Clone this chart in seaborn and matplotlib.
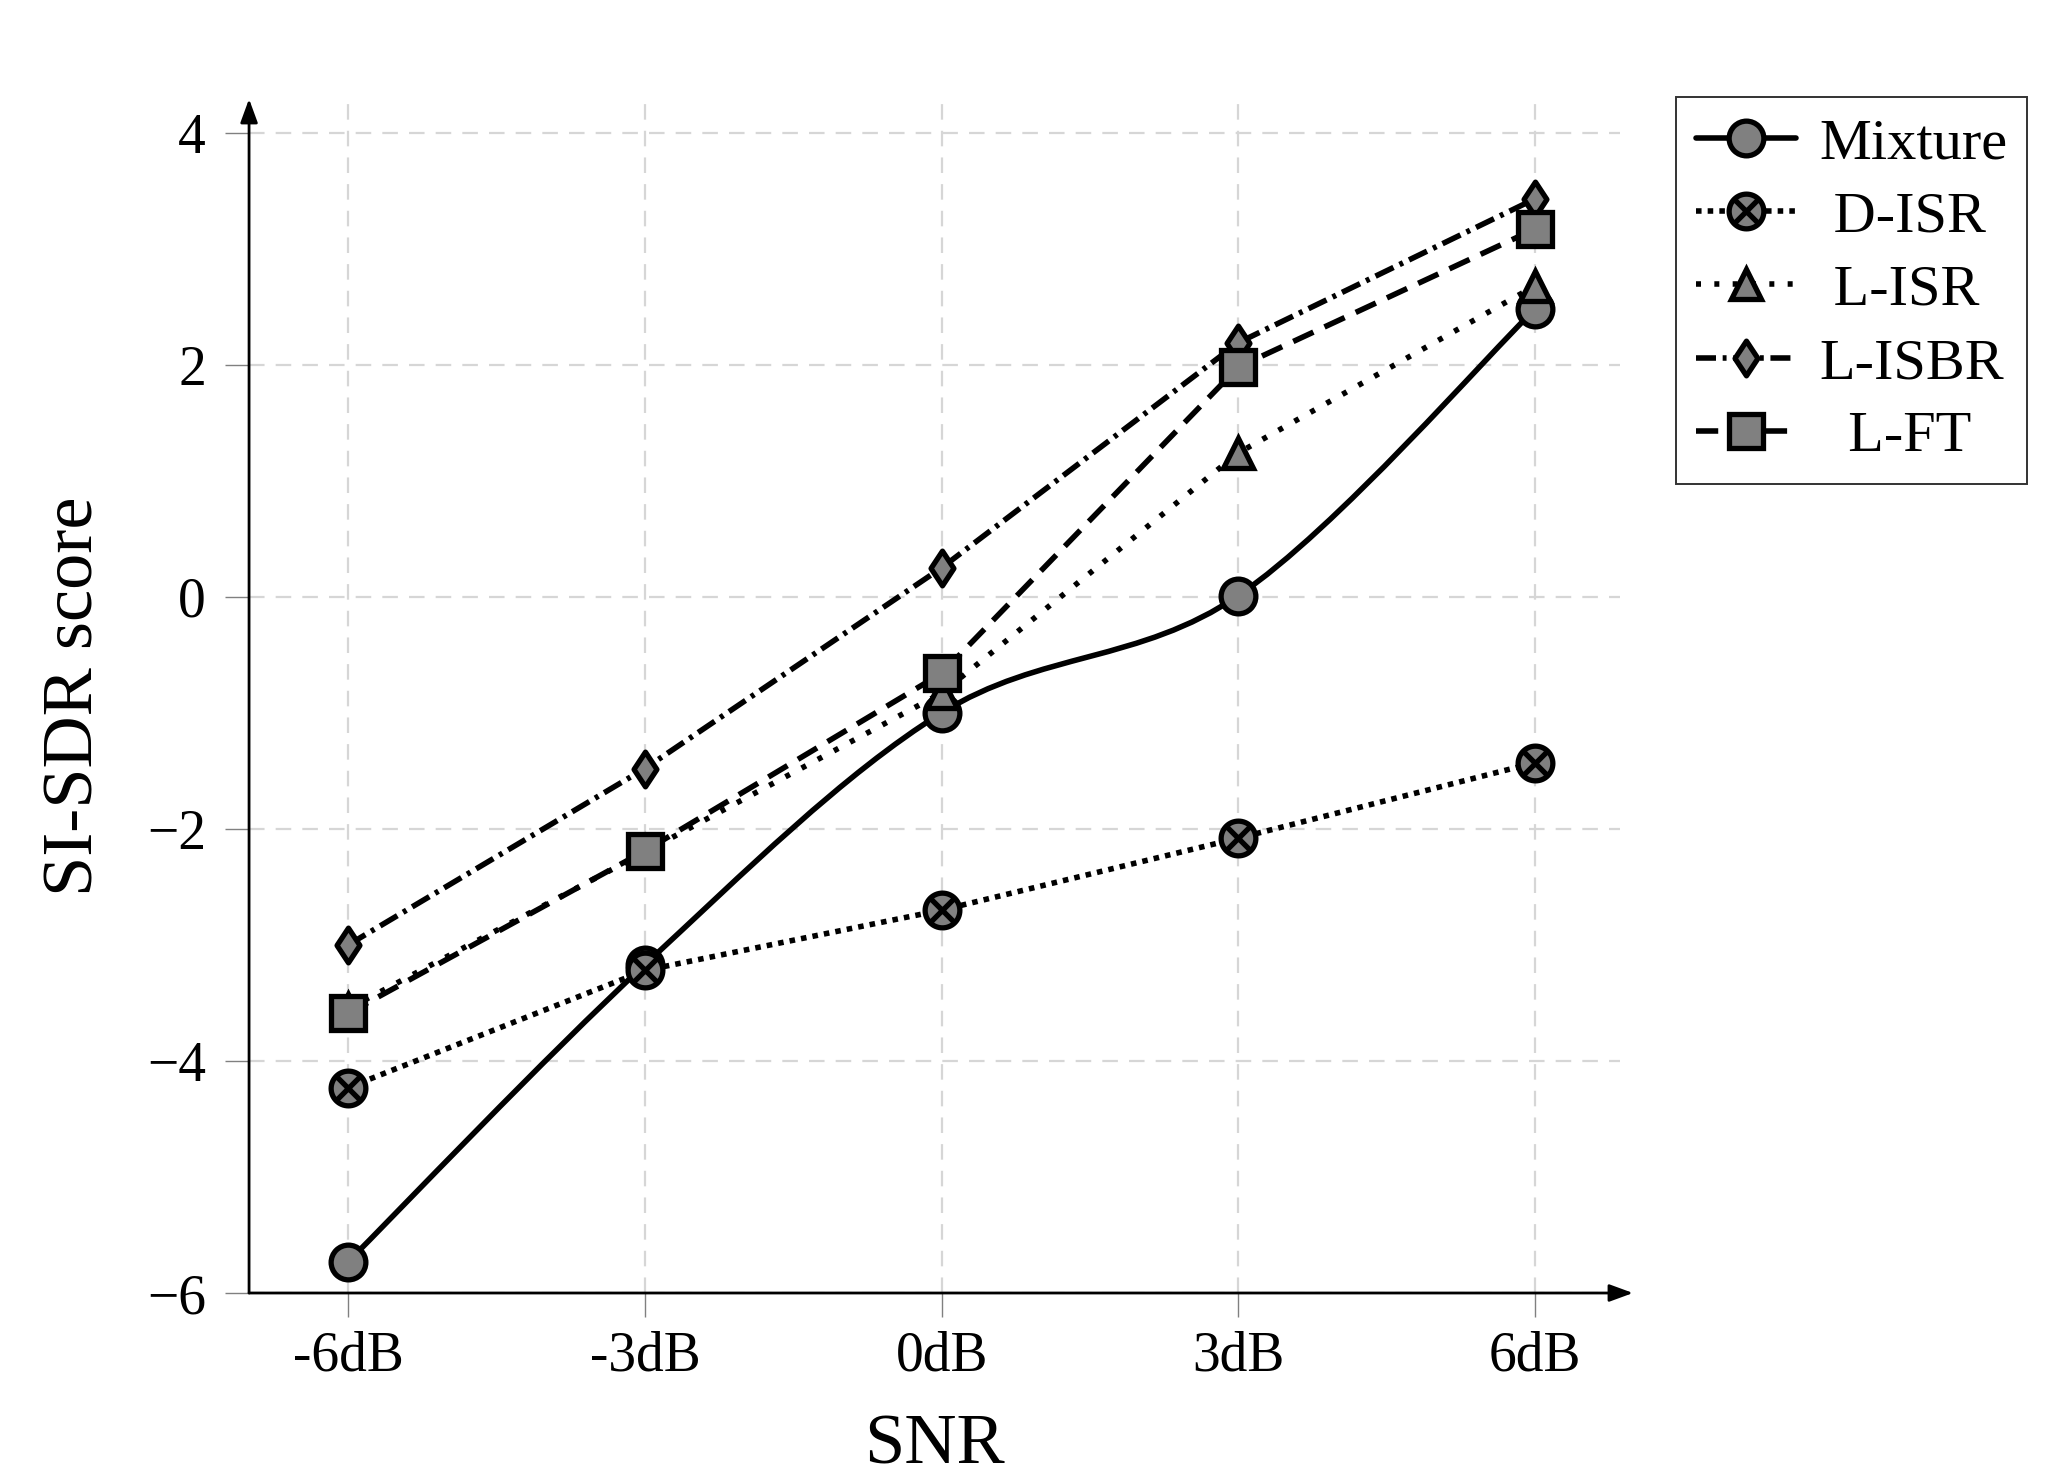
import numpy as np
import pandas as pd
import seaborn as sns
import matplotlib.pyplot as plt
from matplotlib.path import Path
from matplotlib.patches import PathPatch
from matplotlib.lines import Line2D

# ----- Data -----
snr_labels = ['-6dB', '-3dB', '0dB', '3dB', '6dB']
mixture = [-5.73, -3.17, -1.00, 0.01, 2.48]
d_isr = [-4.23, -3.22, -2.70, -2.08, -1.43]
l_isr = [-3.55, -2.20, -0.83, 1.24, 2.68]
l_isbr = [-3.00, -1.48, 0.25, 2.19, 3.43]
l_ft = [-3.59, -2.19, -0.66, 1.98, 3.17]

series_names = ['Mixture', 'D-ISR', 'L-ISR', 'L-ISBR', 'L-FT']
series_values = [mixture, d_isr, l_isr, l_isbr, l_ft]
y_ticks = [-6, -4, -2, 0, 2, 4]

# ----- Styling -----
sns.set_theme(style='white', rc={'text.color': 'black', 'axes.labelcolor': 'black',
                                 'xtick.color': 'black', 'ytick.color': 'black'})
plt.rcParams['font.family'] = ['Liberation Serif', 'DejaVu Serif']

GRAY = '#808080'
LW = 2.0
MEW = 1.9

# circle with a cross inside (otimes)
t = np.linspace(0, 2 * np.pi, 65)
circ = Path(np.column_stack([np.cos(t), np.sin(t)]), closed=True)
c45 = np.sqrt(0.5)
otimes = Path.make_compound_path(
    circ,
    Path([(-c45, -c45), (c45, c45)], [Path.MOVETO, Path.LINETO]),
    Path([(-c45, c45), (c45, -c45)], [Path.MOVETO, Path.LINETO]),
)
thin_diamond = Path([(0, 1), (0.66, 0), (0, -1), (-0.66, 0), (0, 1)], closed=True)

styles = {
    'Mixture': dict(marker='o', ms=12.5, ls='-'),
    'D-ISR': dict(marker=otimes, ms=12.5, ls=(0, (1.0, 1.1))),
    'L-ISR': dict(marker='^', ms=11, ls=(0, (0.9, 2.4))),
    'L-ISBR': dict(marker=thin_diamond, ms=12.5, ls=(0, (3.6, 1.2, 0.7, 1.2))),
    'L-FT': dict(marker='s', ms=12.5, ls=(0, (4, 2.2))),
}

fig = plt.figure(figsize=(10.3, 7.42), dpi=200)
ax = fig.add_axes([0.1209, 0.1287, 0.7864 - 0.1209, 0.9333 - 0.1287])

xpos = np.arange(len(snr_labels))

for name, vals in zip(series_names, series_values):
    st = styles[name]
    df = pd.DataFrame({'snr': xpos, 'val': vals})
    if name == 'Mixture':
        # smooth curve through the points (catmull-rom bezier)
        pts = np.column_stack([xpos, vals]).astype(float)
        verts = [pts[0]]
        codes = [Path.MOVETO]
        n = len(pts)
        for i in range(n - 1):
            p_prev = pts[max(i - 1, 0)]
            p_next2 = pts[min(i + 2, n - 1)]
            c1 = pts[i] + (pts[i + 1] - p_prev) / 6
            c2 = pts[i + 1] - (p_next2 - pts[i]) / 6
            verts += [c1, c2, pts[i + 1]]
            codes += [Path.CURVE4] * 3
        ax.add_patch(PathPatch(Path(verts, codes), facecolor='none',
                               edgecolor='black', lw=LW, zorder=3))
        sns.lineplot(data=df, x='snr', y='val', ax=ax, linestyle='none',
                     marker=st['marker'], markersize=st['ms'],
                     markerfacecolor=GRAY, markeredgecolor='black',
                     markeredgewidth=MEW, zorder=4)
    else:
        sns.lineplot(data=df, x='snr', y='val', ax=ax, color='black',
                     lw=LW, linestyle=st['ls'], dash_capstyle='butt',
                     marker=st['marker'], markersize=st['ms'],
                     markerfacecolor=GRAY, markeredgecolor='black',
                     markeredgewidth=MEW, zorder=4)

# Axis formatting:
ax.set_xlim(-0.334, 4.286)
ax.set_ylim(-6, 4.29)
ax.set_xticks(xpos)
ax.set_xticklabels(snr_labels)
ax.set_yticks(y_ticks)
ax.set_xlabel('SNR', fontsize=26, labelpad=11)
ax.set_ylabel('SI-SDR score', fontsize=26, labelpad=14)
ax.tick_params(axis='both', labelsize=20, direction='out', length=8.5,
               width=0.5, color=GRAY, labelcolor='black', bottom=True, left=True)
ax.tick_params(axis='x', pad=5)
ax.tick_params(axis='y', pad=7)
ax.grid(True, color='#d6d6d6', lw=0.8, linestyle=(0, (7, 5)))
ax.set_axisbelow(True)

for s in ['top', 'right', 'left', 'bottom']:
    ax.spines[s].set_visible(False)

# Axis lines with arrow heads
arrow = dict(arrowstyle='-|>,head_length=0.6,head_width=0.22', color='black',
             lw=1.0, shrinkA=0, shrinkB=0)
ax.annotate('', xy=(1.0095, 0), xytext=(0, 0), xycoords='axes fraction',
            arrowprops=arrow, annotation_clip=False)
ax.annotate('', xy=(0, 1.0), xytext=(0, 0), xycoords='axes fraction',
            arrowprops=arrow, annotation_clip=False)

# Legend
handles = []
for name in series_names:
    st = styles[name]
    handles.append(Line2D([], [], color='black', lw=LW, linestyle=st['ls'],
                          marker=st['marker'], markersize=st['ms'],
                          markerfacecolor=GRAY, markeredgecolor='black',
                          markeredgewidth=MEW))
leg_labels = ['Mixture', ' D-ISR', ' L-ISR', 'L-ISBR', '  L-FT']
leg = ax.legend(handles, leg_labels, loc='upper left',
                bbox_to_anchor=(0.8136, 0.9346), bbox_transform=fig.transFigure,
                borderaxespad=0, fontsize=21, frameon=True, fancybox=False,
                edgecolor='black', handlelength=1.7, handletextpad=0.4,
                labelspacing=0.35, borderpad=0.35, numpoints=1)
leg.get_frame().set_linewidth(0.7)
for txt in leg.get_texts():
    txt.set_color('black')

fig.savefig('out.png', dpi=200, facecolor='white')
